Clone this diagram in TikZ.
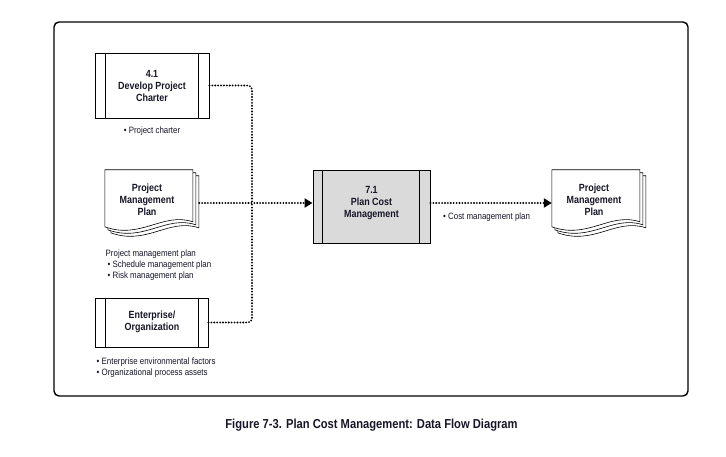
\documentclass[tikz,border=0pt]{standalone}
\usepackage{fontspec}
\setmainfont{Liberation Sans}[FakeStretch=0.86]
\usetikzlibrary{arrows.meta}
\definecolor{txt}{RGB}{22,22,40}
\definecolor{procfill}{RGB}{218,218,218}
\tikzset{
  boxtext/.style={font=\fontsize{10.4}{11.8}\selectfont\bfseries, text=txt, align=center, inner sep=0pt},
  lbl/.style={font=\fontsize{9.2}{11.2}\selectfont, text=txt, align=left, inner sep=0pt},
  procbox/.style={draw, line width=0.9pt, inner sep=0pt},
  flow/.style={line width=2.1pt, dash pattern=on 0pt off 2.9pt, line cap=round},
  arrowtip/.style={-{Triangle[length=8pt,width=9pt]}},
  page/.style={draw, fill=white, line width=0.6pt}
}
\newcommand{\docstack}[1]{%
  \begin{scope}[shift={(#1.north west)}]
    \foreach \d in {6,3,0}{
      \draw[page] (\d,\d) -- (88+\d,\d) -- (88+\d,52+\d)
        .. controls (58+\d,42+\d) and (36+\d,70+\d) .. (\d,57+\d) -- cycle;
    }
  \end{scope}}
\begin{document}
\begin{tikzpicture}[x=1pt,y=-1pt]
\useasboundingbox (0,0) rectangle (726,457);
\draw[line width=1.4pt, rounded corners=5pt] (54,22) rectangle (688,396);

% process boxes
\node[procbox, minimum width=114pt, minimum height=65pt] (charter) at (152,85.5) {};
\draw[line width=0.9pt] ([xshift=11pt]charter.north west) -- ([xshift=11pt]charter.south west);
\draw[line width=0.9pt] ([xshift=-11pt]charter.north east) -- ([xshift=-11pt]charter.south east);
\node[boxtext] (chartertxt) at (152,86) {4.1\\Develop Project\\Charter};

\node[procbox, minimum width=113pt, minimum height=49pt] (ent) at (151.5,322.5) {};
\draw[line width=0.9pt] ([xshift=11pt]ent.north west) -- ([xshift=11pt]ent.south west);
\draw[line width=0.9pt] ([xshift=-10pt]ent.north east) -- ([xshift=-10pt]ent.south east);
\node[boxtext] (enttxt) at (152,322) {Enterprise/\\Organization};

\node[procbox, fill=procfill, minimum width=117pt, minimum height=73pt] (pcm) at (371.5,206.5) {};
\draw[line width=0.9pt] ([xshift=10pt]pcm.north west) -- ([xshift=10pt]pcm.south west);
\draw[line width=0.9pt] ([xshift=-11pt]pcm.north east) -- ([xshift=-11pt]pcm.south east);
\node[boxtext] (pcmtxt) at (371.5,203) {7.1\\Plan Cost\\Management};

% documents
\node[minimum width=94pt, minimum height=66pt, inner sep=0pt] (pmpdoc) at (152,203) {};
\docstack{pmpdoc}
\node[boxtext] (pmptxt) at (147,200) {Project\\Management\\Plan};

\node[minimum width=94pt, minimum height=66pt, inner sep=0pt] (outdoc) at (599,203) {};
\docstack{outdoc}
\node[boxtext] (outtxt) at (594,200) {Project\\Management\\Plan};

% connectors
\coordinate (j) at (252,203);
\draw[flow, rounded corners=4pt] (charter.east) -| (j);
\draw[flow, rounded corners=4pt] (ent.east) -| (j);
\draw[flow, arrowtip] (pmpdoc.east) -- (pmpdoc.east -| pcm.west);
\draw[flow, arrowtip] (pcm.east |- j) -- (j -| outdoc.west);

% labels
\node[lbl, anchor=center] (chlab) at (152,131) {• Project charter};
\node[lbl, anchor=north west] (pmplab) at (105.5,249.5) {Project management plan\\
\hspace*{2pt}• Schedule management plan\\
\hspace*{2pt}• Risk management plan};
\node[lbl, anchor=north west] (entlab) at (96.5,357.5) {• Enterprise environmental factors\\
• Organizational process assets};
\node[lbl, anchor=west] (costlab) at (443,217) {• Cost management plan};

\node[font=\fontsize{13}{15}\selectfont\bfseries, text=txt, inner sep=0pt] (caption) at (371.5,425)
  {Figure 7-3. Plan Cost Management: Data Flow Diagram};
\end{tikzpicture}
\end{document}
